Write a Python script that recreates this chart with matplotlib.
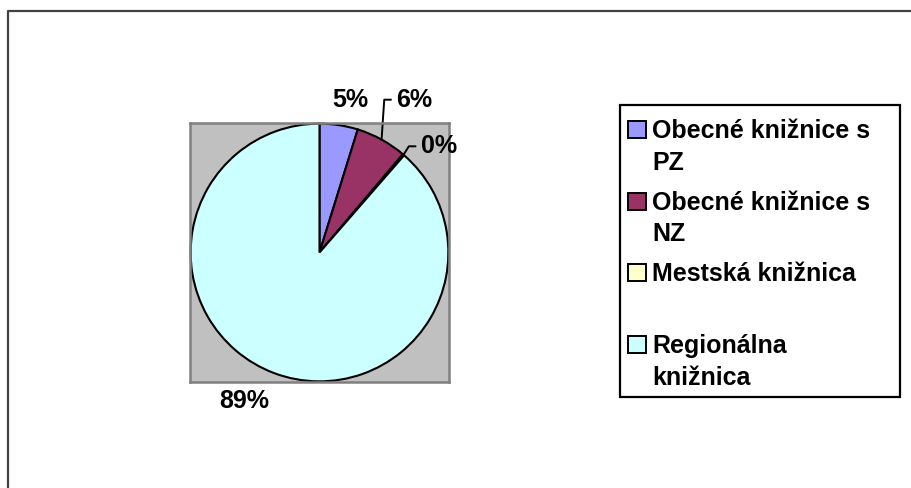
import numpy as np
import matplotlib.pyplot as plt
from matplotlib.patches import Rectangle

plt.rcParams['font.family'] = ['Liberation Sans', 'DejaVu Sans']

# data
categories = ['Obecné knižnice s\nPZ', 'Obecné knižnice s\nNZ', 'Mestská knižnica', 'Regionálna\nknižnica']
shares = [4.8, 6.4, 0.2, 88.6]
colors = ['#9999FF', '#993366', '#FFFFCC', '#CCFFFF']

W, H = 911, 488
fig = plt.figure(figsize=(W / 100, H / 100), dpi=100)

# full-figure overlay in pixel coords (frame + legend)
bg = fig.add_axes([0, 0, 1, 1])
bg.set_xlim(0, W)
bg.set_ylim(H, 0)
bg.axis('off')
bg.plot([8, 8, W + 5], [H + 5, 11, 11], color='#404040', lw=1.6, solid_capstyle='butt')

# pie area (grey plot area)
px0, py0, pw = 190, 123, 259
ax = fig.add_axes([px0 / W, 1 - (py0 + pw) / H, pw / W, pw / H])

wedges, _ = ax.pie(shares, colors=colors, startangle=90, counterclock=False,
                   radius=0.995, wedgeprops=dict(edgecolor='black', linewidth=1.5))
ax.set_frame_on(True)
ax.set_facecolor('#C0C0C0')
for s in ax.spines.values():
    s.set_visible(True)
    s.set_color('#808080')
    s.set_linewidth(1.8)
ax.set_xticks([])
ax.set_yticks([])
ax.set_xlim(-1, 1)
ax.set_ylim(-1, 1)
ax.set_aspect('equal')

pct = [f'{round(v)}%' for v in shares]
lab_kw = dict(fontsize=18, fontweight='bold', color='black')

# label layout (text anchor positions in pie units)
label_xy = [(0.24, 1.18), (0.59, 1.18), (0.78, 0.82), (-0.58, -1.15)]
leader = [False, True, True, False]
for w, txt, (tx, ty), ld in zip(wedges, pct, label_xy, leader):
    mid = np.deg2rad((w.theta1 + w.theta2) / 2)
    ax_x, ax_y = 0.995 * np.cos(mid), 0.995 * np.sin(mid)
    if ld:
        kx = tx - 0.04
        ax.plot([ax_x, kx - 0.05, kx], [ax_y, ty, ty], color='black', lw=1.4, clip_on=False)
        ax.text(tx, ty, txt, ha='left', va='center', clip_on=False, **lab_kw)
    else:
        ax.text(tx, ty, txt, ha='center', va='center', clip_on=False, **lab_kw)

# legend
bg.add_patch(Rectangle((620, 105), 280, 292, fill=False, edgecolor='black', lw=1.6))
for i, (lab, c) in enumerate(zip(categories, colors)):
    y0 = 138 + 71.7 * i
    bg.add_patch(Rectangle((628, y0 - 17), 18, 17, facecolor=c, edgecolor='black', lw=1.4))
    for j, line in enumerate(lab.split('\n')):
        bg.text(652, y0 + 31.5 * j, line, ha='left', va='baseline', **lab_kw)

fig.savefig('out.png', dpi=100)
